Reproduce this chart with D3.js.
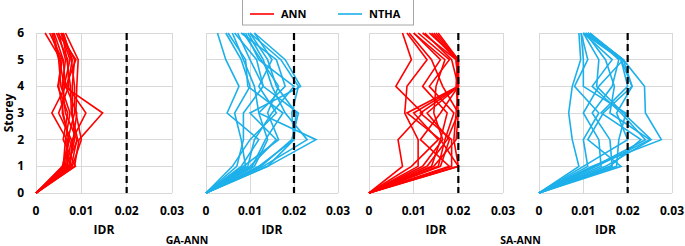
<!DOCTYPE html>
<html>
<head>
<meta charset="utf-8">
<script src="https://cdn.jsdelivr.net/npm/d3@7"></script>
<style>
  body { margin: 0; background: #fff; }
  svg text { font-family: "Open Sans", "Liberation Sans", Arial, sans-serif; font-weight: bold; fill: #000; }
</style>
</head>
<body>
<div id="chart"></div>
<script>
// DATA  (IDR at storeys 1..6, storey 0 is always 0)
var storeys = [0, 1, 2, 3, 4, 5, 6]
var xTicks = [0, 0.01, 0.02, 0.03]
var idrLimit = 0.02
var groupLabels = ['GA-ANN', 'SA-ANN']
var seriesNames = ['ANN', 'NTHA']

var gaAnn = [
  [0.0085, 0.0095, 0.0147, 0.0062, 0.0075, 0.0055],
  [0.0075, 0.0080, 0.0110, 0.0070, 0.0080, 0.0060],
  [0.0070, 0.0068, 0.0035, 0.0065, 0.0060, 0.0040],
  [0.0080, 0.0100, 0.0088, 0.0090, 0.0093, 0.0065],
  [0.0065, 0.0072, 0.0060, 0.0050, 0.0055, 0.0020],
  [0.0060, 0.0065, 0.0075, 0.0055, 0.0050, 0.0035],
  [0.0072, 0.0085, 0.0080, 0.0080, 0.0085, 0.0055],
  [0.0068, 0.0078, 0.0050, 0.0072, 0.0070, 0.0045],
  [0.0078, 0.0090, 0.0065, 0.0058, 0.0065, 0.0050],
  [0.0062, 0.0070, 0.0085, 0.0085, 0.0078, 0.0060],
  [0.0087, 0.0060, 0.0070, 0.0048, 0.0058, 0.0030],
  [0.0074, 0.0082, 0.0090, 0.0066, 0.0088, 0.0048],
  [0.0066, 0.0092, 0.0078, 0.0076, 0.0068, 0.0058],
  [0.0058, 0.0074, 0.0058, 0.0062, 0.0052, 0.0038]
]
var gaNtha = [
  [0.0140, 0.0250, 0.0120, 0.0110, 0.0085, 0.0060],
  [0.0130, 0.0230, 0.0180, 0.0150, 0.0130, 0.0095],
  [0.0120, 0.0200, 0.0205, 0.0160, 0.0140, 0.0100],
  [0.0100, 0.0160, 0.0100, 0.0215, 0.0180, 0.0110],
  [0.0080, 0.0120, 0.0048, 0.0075, 0.0045, 0.0026],
  [0.0090, 0.0080, 0.0065, 0.0100, 0.0080, 0.0045],
  [0.0070, 0.0085, 0.0085, 0.0130, 0.0115, 0.0065],
  [0.0110, 0.0140, 0.0120, 0.0180, 0.0160, 0.0080],
  [0.0060, 0.0100, 0.0160, 0.0120, 0.0150, 0.0110],
  [0.0125, 0.0195, 0.0210, 0.0130, 0.0100, 0.0072],
  [0.0095, 0.0110, 0.0150, 0.0200, 0.0120, 0.0090],
  [0.0105, 0.0135, 0.0175, 0.0095, 0.0090, 0.0050],
  [0.0085, 0.0165, 0.0140, 0.0165, 0.0125, 0.0085],
  [0.0140, 0.0200, 0.0195, 0.0210, 0.0170, 0.0100]
]
var saAnn = [
  [0.0075, 0.0065, 0.0120, 0.0060, 0.0095, 0.0075],
  [0.0110, 0.0110, 0.0080, 0.0085, 0.0130, 0.0085],
  [0.0200, 0.0190, 0.0195, 0.0200, 0.0195, 0.0140],
  [0.0140, 0.0160, 0.0085, 0.0200, 0.0200, 0.0155],
  [0.0120, 0.0165, 0.0145, 0.0150, 0.0170, 0.0100],
  [0.0095, 0.0155, 0.0100, 0.0200, 0.0195, 0.0120],
  [0.0155, 0.0170, 0.0190, 0.0135, 0.0180, 0.0110],
  [0.0160, 0.0180, 0.0130, 0.0200, 0.0200, 0.0135],
  [0.0180, 0.0115, 0.0160, 0.0200, 0.0200, 0.0150],
  [0.0145, 0.0195, 0.0200, 0.0165, 0.0140, 0.0090],
  [0.0185, 0.0185, 0.0115, 0.0200, 0.0185, 0.0125],
  [0.0200, 0.0160, 0.0175, 0.0120, 0.0160, 0.0100],
  [0.0130, 0.0175, 0.0200, 0.0195, 0.0198, 0.0145]
]
var saNtha = [
  [0.0120, 0.0276, 0.0240, 0.0238, 0.0190, 0.0110],
  [0.0185, 0.0110, 0.0145, 0.0210, 0.0190, 0.0115],
  [0.0090, 0.0075, 0.0067, 0.0075, 0.0094, 0.0090],
  [0.0110, 0.0100, 0.0135, 0.0080, 0.0110, 0.0095],
  [0.0150, 0.0253, 0.0190, 0.0130, 0.0135, 0.0100],
  [0.0160, 0.0230, 0.0140, 0.0200, 0.0185, 0.0105],
  [0.0140, 0.0135, 0.0100, 0.0135, 0.0190, 0.0110],
  [0.0100, 0.0200, 0.0175, 0.0210, 0.0185, 0.0100],
  [0.0175, 0.0180, 0.0196, 0.0100, 0.0100, 0.0095],
  [0.0130, 0.0250, 0.0160, 0.0170, 0.0150, 0.0105],
  [0.0165, 0.0160, 0.0120, 0.0165, 0.0180, 0.0115],
  [0.0125, 0.0240, 0.0185, 0.0120, 0.0165, 0.0100]
]

// GLOBAL
var width = 685
var height = 246
var colours = {ANN: '#ff0000', NTHA: '#1cb0ea'}
var gridColour = '#d9d9d9'
var yTop = 33, yBottom = 193

var panels = [
  {data: gaAnn, kind: 'ANN', x0: 36, x1: 172, showY: true},
  {data: gaNtha, kind: 'NTHA', x0: 206, x1: 338, showY: false},
  {data: saAnn, kind: 'ANN', x0: 369, x1: 503, showY: false},
  {data: saNtha, kind: 'NTHA', x0: 539, x1: 672, showY: false}
]

var svg = d3.select('#chart').append('svg')
  .attr('width', width)
  .attr('height', height)

var yMap = d3.scaleLinear().domain([0, 6]).range([yBottom, yTop])

// FUNCTION
function drawPanel(p) {
  var xMap = d3.scaleLinear().domain([0, 0.03]).range([p.x0, p.x1])
  var g = svg.append('g')

  // grid
  g.selectAll('.hgrid').data(storeys).enter().append('line')
    .attr('x1', p.x0).attr('x2', p.x1)
    .attr('y1', d => yMap(d)).attr('y2', d => yMap(d))
    .style('stroke', gridColour).style('stroke-width', 1)
    .style('shape-rendering', 'crispEdges')
  g.selectAll('.vgrid').data(xTicks).enter().append('line')
    .attr('x1', d => xMap(d)).attr('x2', d => xMap(d))
    .attr('y1', yTop).attr('y2', yBottom)
    .style('stroke', gridColour).style('stroke-width', 1)
    .style('shape-rendering', 'crispEdges')

  // lines
  var line = d3.line()
    .x(d => xMap(d[1]))
    .y(d => yMap(d[0]))
  g.selectAll('.curve').data(p.data).enter().append('path')
    .attr('d', d => line([0].concat(d).map((v, i) => [storeys[i], v])))
    .style('fill', 'none')
    .style('stroke', colours[p.kind])
    .style('stroke-width', 1.6)
    .style('stroke-linejoin', 'miter')

  // limit line
  g.append('line')
    .attr('x1', xMap(idrLimit)).attr('x2', xMap(idrLimit))
    .attr('y1', yTop).attr('y2', yBottom)
    .style('stroke', '#000').style('stroke-width', 2.2)
    .style('stroke-dasharray', '7,4')

  // x tick labels
  g.selectAll('.xlab').data(xTicks).enter().append('text')
    .attr('x', d => xMap(d)).attr('y', 215)
    .attr('text-anchor', 'middle')
    .style('font-size', '12px')
    .text(d => d === 0 ? '0' : d3.format('.2f')(d))

  g.append('text')
    .attr('x', (p.x0 + p.x1) / 2).attr('y', 234)
    .attr('text-anchor', 'middle')
    .style('font-size', '12px')
    .text('IDR')

  if (p.showY) {
    g.selectAll('.ylab').data(storeys).enter().append('text')
      .attr('x', 24).attr('y', d => yMap(d) + 4)
      .attr('text-anchor', 'end')
      .style('font-size', '12px')
      .text(d => d)
    g.append('text')
      .attr('transform', 'translate(13,' + (yTop + yBottom) / 2 + ') rotate(-90)')
      .attr('text-anchor', 'middle')
      .style('font-size', '12px')
      .text('Storey')
  }
}

panels.forEach(drawPanel)

// group labels
svg.selectAll('.grp').data(groupLabels).enter().append('text')
  .attr('x', (d, i) => (panels[i * 2].x0 + panels[i * 2 + 1].x1) / 2)
  .attr('y', 244)
  .attr('text-anchor', 'middle')
  .style('font-size', '10.5px')
  .text(d => d)

// legend
var leg = svg.append('g')
leg.append('rect')
  .attr('x', 242.5).attr('y', -1).attr('width', 171).attr('height', 26)
  .style('fill', '#fff').style('stroke', '#a6a6a6').style('stroke-width', 1)
var legX = [250, 338]
seriesNames.forEach(function(name, i) {
  leg.append('line')
    .attr('x1', legX[i]).attr('x2', legX[i] + 24)
    .attr('y1', 14).attr('y2', 14)
    .style('stroke', colours[name]).style('stroke-width', 1.6)
  leg.append('text')
    .attr('x', legX[i] + 31).attr('y', 18)
    .style('font-size', '11px')
    .text(name)
})
</script>
</body>
</html>
